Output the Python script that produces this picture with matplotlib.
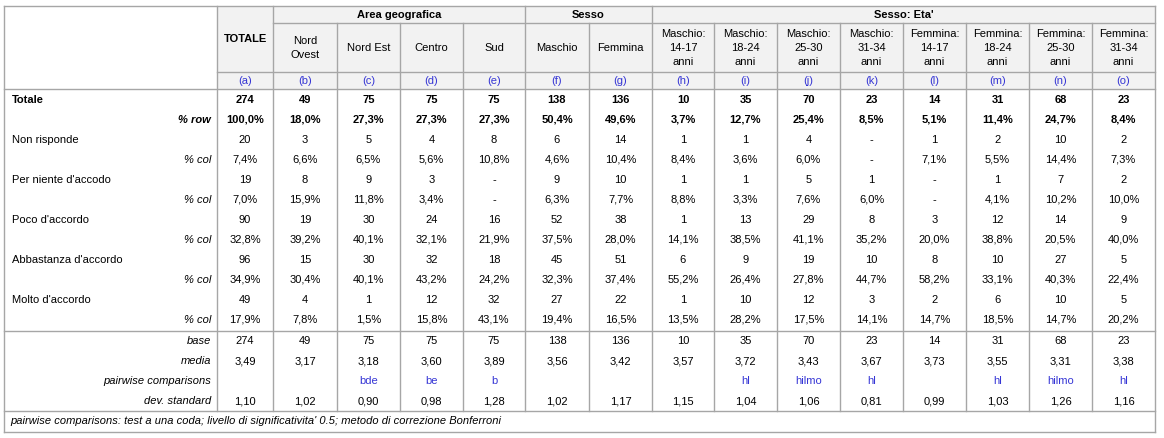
import matplotlib
matplotlib.use("Agg")
from matplotlib import pyplot as plt
from matplotlib.patches import Rectangle

plt.rcParams['font.family'] = ['Liberation Sans', 'DejaVu Sans']

# intestazioni
groups = [("Area geografica", 1, 5), ("Sesso", 5, 7), ("Sesso: Eta'", 7, 15)]
col_names = ["TOTALE", "Nord\nOvest", "Nord Est", "Centro", "Sud", "Maschio", "Femmina",
             "Maschio:\n14-17\nanni", "Maschio:\n18-24\nanni", "Maschio:\n25-30\nanni",
             "Maschio:\n31-34\nanni", "Femmina:\n14-17\nanni", "Femmina:\n18-24\nanni",
             "Femmina:\n25-30\nanni", "Femmina:\n31-34\nanni"]
letters = list("abcdefghijklmno")

# totali
tot = [274, 49, 75, 75, 75, 138, 136, 10, 35, 70, 23, 14, 31, 68, 23]
pct_row = [100.0, 18.0, 27.3, 27.3, 27.3, 50.4, 49.6, 3.7, 12.7, 25.4, 8.5, 5.1, 11.4, 24.7, 8.4]

# risposte
categories = ["Non risponde", "Per niente d'accodo", "Poco d'accordo",
              "Abbastanza d'accordo", "Molto d'accordo"]
counts = [
    [20, 3, 5, 4, 8, 6, 14, 1, 1, 4, None, 1, 2, 10, 2],
    [19, 8, 9, 3, None, 9, 10, 1, 1, 5, 1, None, 1, 7, 2],
    [90, 19, 30, 24, 16, 52, 38, 1, 13, 29, 8, 3, 12, 14, 9],
    [96, 15, 30, 32, 18, 45, 51, 6, 9, 19, 10, 8, 10, 27, 5],
    [49, 4, 1, 12, 32, 27, 22, 1, 10, 12, 3, 2, 6, 10, 5],
]
pct_col = [
    [7.4, 6.6, 6.5, 5.6, 10.8, 4.6, 10.4, 8.4, 3.6, 6.0, None, 7.1, 5.5, 14.4, 7.3],
    [7.0, 15.9, 11.8, 3.4, None, 6.3, 7.7, 8.8, 3.3, 7.6, 6.0, None, 4.1, 10.2, 10.0],
    [32.8, 39.2, 40.1, 32.1, 21.9, 37.5, 28.0, 14.1, 38.5, 41.1, 35.2, 20.0, 38.8, 20.5, 40.0],
    [34.9, 30.4, 40.1, 43.2, 24.2, 32.3, 37.4, 55.2, 26.4, 27.8, 44.7, 58.2, 33.1, 40.3, 22.4],
    [17.9, 7.8, 1.5, 15.8, 43.1, 19.4, 16.5, 13.5, 28.2, 17.5, 14.1, 14.7, 18.5, 14.7, 20.2],
]

# statistiche
base = [274, 49, 75, 75, 75, 138, 136, 10, 35, 70, 23, 14, 31, 68, 23]
media = [3.49, 3.17, 3.18, 3.60, 3.89, 3.56, 3.42, 3.57, 3.72, 3.43, 3.67, 3.73, 3.55, 3.31, 3.38]
pairwise = ["", "", "bde", "be", "b", "", "", "", "hl", "hilmo", "hl", "", "hl", "hilmo", "hl"]
dev_std = [1.10, 1.02, 0.90, 0.98, 1.28, 1.02, 1.17, 1.15, 1.04, 1.06, 0.81, 0.99, 1.03, 1.26, 1.16]

footnote = "pairwise comparisons: test a una coda; livello di significativita' 0.5; metodo di correzione Bonferroni"

# layout in pixel
edges = [217, 273, 337, 400, 463, 525, 589, 652, 714, 777, 840, 903, 966, 1029, 1092, 1155]
left, right, top = 4, 1155, 6
grid = '#a6a6a6'
blue = '#3535d5'
fs = 8


def fmt_int(v):
    return "-" if v is None else str(v)


def fmt_pct(v):
    return "-" if v is None else ("%.1f%%" % v).replace(".", ",")


def fmt_dec(v):
    return ("%.2f" % v).replace(".", ",")


fig = plt.figure(figsize=(11.64, 4.38), dpi=100)
ax = fig.add_axes([0, 0, 1, 1])
ax.set_xlim(0, 1164)
ax.set_ylim(438, 0)
ax.axis('off')

ax.add_patch(Rectangle((edges[0], top), right - edges[0], 89 - top, facecolor='#f2f2f2', edgecolor='none'))

centers = [(edges[i] + edges[i + 1]) / 2 for i in range(15)]

# header
for name, a, b in groups:
    ax.text((edges[a] + edges[b]) / 2, 15, name, ha='center', va='center', fontsize=fs, fontweight='bold')
ax.text(centers[0], 39, col_names[0], ha='center', va='center', fontsize=fs, fontweight='bold')
for i in range(1, 15):
    ax.text(centers[i], 48, col_names[i], ha='center', va='center', fontsize=fs, linespacing=1.45)
for i in range(15):
    ax.text(centers[i], 81, "(%s)" % letters[i], ha='center', va='center', fontsize=fs, color=blue)

# body
y = 100
ax.text(12, y, "Totale", ha='left', va='center', fontsize=fs, fontweight='bold')
for i in range(15):
    ax.text(centers[i], y, fmt_int(tot[i]), ha='center', va='center', fontsize=fs, fontweight='bold')
y += 20
ax.text(211, y, "% row", ha='right', va='center', fontsize=fs, fontweight='bold', style='italic')
for i in range(15):
    ax.text(centers[i], y, fmt_pct(pct_row[i]), ha='center', va='center', fontsize=fs, fontweight='bold')
for k, cat in enumerate(categories):
    y += 20
    ax.text(12, y, cat, ha='left', va='center', fontsize=fs)
    for i in range(15):
        ax.text(centers[i], y, fmt_int(counts[k][i]), ha='center', va='center', fontsize=fs)
    y += 20
    ax.text(211, y, "% col", ha='right', va='center', fontsize=fs, style='italic')
    for i in range(15):
        ax.text(centers[i], y, fmt_pct(pct_col[k][i]), ha='center', va='center', fontsize=fs)

stats = [("base", [fmt_int(v) for v in base], 'black'),
         ("media", [fmt_dec(v) for v in media], 'black'),
         ("pairwise comparisons", pairwise, blue),
         ("dev. standard", [fmt_dec(v) for v in dev_std], 'black')]
y = 341
for label, vals, col in stats:
    ax.text(211, y, label, ha='right', va='center', fontsize=fs, style='italic')
    for i in range(15):
        ax.text(centers[i], y, vals[i], ha='center', va='center', fontsize=fs, color=col)
    y += 20

ax.text(10, 421, footnote, ha='left', va='center', fontsize=fs, style='italic')

# griglia
lw = 1
for yy in [top, 89, 331, 411, 432]:
    ax.plot([left, right], [yy, yy], color=grid, lw=lw)
ax.plot([edges[1], right], [23, 23], color=grid, lw=lw)
ax.plot([edges[0], right], [72, 72], color=grid, lw=lw)
ax.plot([left, left], [top, 432], color=grid, lw=lw)
ax.plot([right, right], [top, 432], color=grid, lw=lw)
ax.plot([edges[0], edges[0]], [top, 411], color=grid, lw=lw)
for j in range(1, 15):
    y0 = top if j in (1, 5, 7) else 23
    ax.plot([edges[j], edges[j]], [y0, 411], color=grid, lw=lw)

fig.savefig("out.png", dpi=100)
